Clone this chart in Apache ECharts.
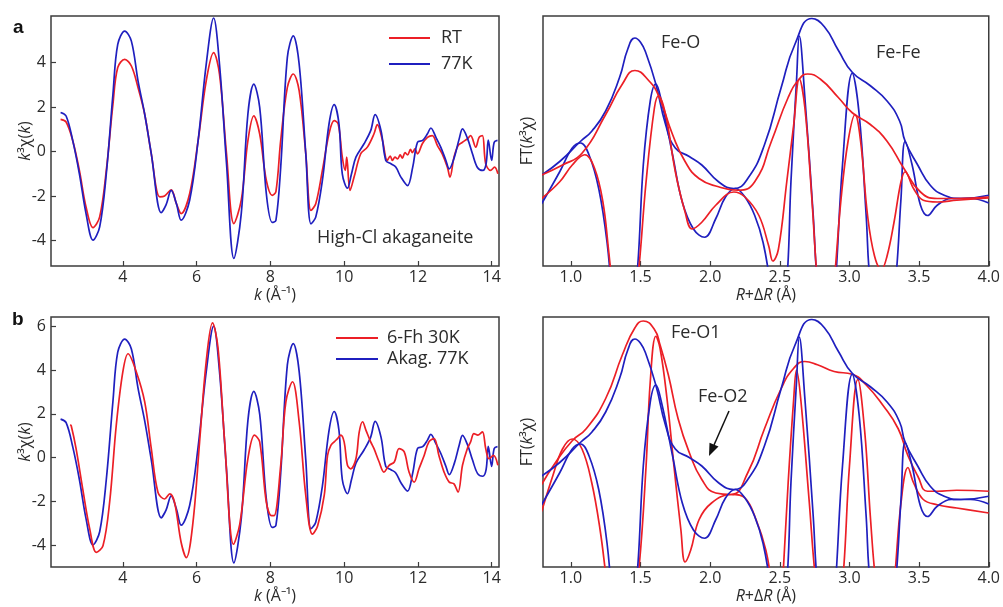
<!DOCTYPE html>
<html>
<head>
<meta charset="utf-8">
<script src="https://cdn.jsdelivr.net/npm/echarts@6/dist/echarts.min.js"></script>
<style>
  html, body { margin: 0; padding: 0; background: #fff; }
  #chart { width: 1003px; height: 607px; }
</style>
</head>
<body>
<div id="chart"></div>
<script>
// k-space ticks
const kTicks = [4, 6, 8, 10, 12, 14];
const chiTicksA = [-4, -2, 0, 2, 4];
const chiTicksB = [-4, -2, 0, 2, 4, 6];
const rTicks = [1.0, 1.5, 2.0, 2.5, 3.0, 3.5, 4.0];

// k^3 chi(k), akaganeite 77K (panels a and b)
const akag77K = [[2.31,1.76],[2.46,1.6],[2.64,0.49],[2.82,-1.0],[3.0,-2.79],[3.19,-3.99],[3.37,-3.39],[3.55,-1.0],[3.73,2.58],[3.86,4.82],[4.05,5.42],[4.23,4.97],[4.41,3.18],[4.59,1.69],[4.77,-0.1],[5.04,-2.75],[5.17,-2.4],[5.31,-1.75],[5.45,-2.34],[5.58,-3.09],[5.81,-2.19],[6.04,0.49],[6.26,3.93],[6.46,6.01],[6.62,3.93],[6.81,-0.55],[7.01,-4.81],[7.21,-2.79],[7.39,1.69],[7.55,3.03],[7.71,1.99],[7.89,-1.9],[8.05,-3.19],[8.15,-3.1],[8.28,-0.7],[8.46,4.24],[8.62,5.21],[8.78,3.94],[8.96,-0.1],[9.1,-3.25],[9.23,-2.95],[9.41,-1.3],[9.59,1.24],[9.73,2.11],[9.86,1.24],[9.95,-1.0],[10.09,-1.65],[10.2,-1.0],[10.32,-0.25],[10.54,0.35],[10.72,0.94],[10.84,1.66],[11.0,0.94],[11.13,-0.4],[11.27,-0.55],[11.4,-0.7],[11.54,-1.15],[11.72,-1.53],[11.86,-0.7],[11.99,0.42],[12.13,0.5],[12.26,0.8],[12.35,1.06],[12.49,0.64],[12.62,0.2],[12.76,-0.4],[12.85,-0.78],[12.99,-0.25],[13.12,0.57],[13.21,1.02],[13.35,0.57],[13.48,-0.1],[13.62,-0.73],[13.76,-0.85],[13.85,-0.55],[13.91,0.52],[14.0,-0.4],[14.07,0.42],[14.16,0.5]];

// k^3 chi(k), akaganeite RT (panel a)
const akagRT = [[2.31,1.45],[2.46,1.33],[2.64,0.49],[2.82,-0.85],[3.0,-2.49],[3.19,-3.42],[3.37,-2.94],[3.55,-0.85],[3.73,2.13],[3.86,3.78],[4.05,4.15],[4.23,3.85],[4.41,2.88],[4.59,1.69],[4.77,-0.1],[5.0,-2.04],[5.13,-2.0],[5.31,-1.72],[5.45,-2.34],[5.58,-2.79],[5.81,-1.9],[6.04,0.49],[6.26,3.18],[6.46,4.45],[6.62,3.48],[6.81,-0.1],[7.01,-3.24],[7.21,-2.19],[7.39,0.49],[7.55,1.61],[7.71,0.79],[7.89,-1.3],[8.05,-1.97],[8.15,-1.8],[8.28,0.5],[8.46,2.89],[8.62,3.49],[8.78,2.74],[8.96,-0.1],[9.1,-2.65],[9.23,-2.35],[9.41,-0.85],[9.59,0.8],[9.73,1.39],[9.84,1.24],[9.95,-0.25],[10.03,-0.85],[10.07,-0.25],[10.16,-1.75],[10.27,-1.15],[10.45,-0.1],[10.63,0.2],[10.81,0.8],[10.9,1.21],[11.04,0.5],[11.17,-0.4],[11.25,-0.2],[11.31,-0.4],[11.38,-0.25],[11.45,-0.33],[11.52,-0.15],[11.58,-0.3],[11.65,-0.05],[11.72,-0.15],[11.8,0.1],[11.85,-0.05],[11.92,0.12],[11.99,-0.1],[12.12,0.35],[12.26,0.64],[12.39,0.72],[12.53,0.27],[12.66,-0.1],[12.8,-0.7],[12.87,-1.15],[12.98,-0.25],[13.09,0.27],[13.21,0.42],[13.34,0.57],[13.43,0.72],[13.57,0.2],[13.66,0.64],[13.75,0.72],[13.84,-0.55],[13.97,-0.85],[14.08,-0.7],[14.17,-1.0]];

// k^3 chi(k), 6-line ferrihydrite 30K (panel b)
const fh30K = [[2.57,1.5],[2.6,1.45],[2.73,0.41],[2.91,-1.43],[3.1,-3.26],[3.28,-4.33],[3.46,-4.03],[3.64,-2.04],[3.82,1.48],[4.0,3.94],[4.14,4.75],[4.36,3.94],[4.59,2.56],[4.77,0.41],[4.95,-1.58],[5.13,-1.89],[5.27,-1.66],[5.4,-2.04],[5.58,-3.88],[5.72,-4.57],[5.9,-2.96],[6.08,0.72],[6.26,4.4],[6.43,6.16],[6.58,5.01],[6.76,0.72],[7.0,-3.96],[7.17,-3.04],[7.39,-0.05],[7.57,1.03],[7.71,0.72],[7.89,-2.04],[8.03,-2.65],[8.1,-2.65],[8.28,-0.35],[8.42,2.55],[8.6,3.47],[8.78,1.64],[8.96,-1.73],[9.14,-3.5],[9.28,-3.12],[9.46,-1.73],[9.55,0.1],[9.64,0.56],[9.73,0.72],[9.82,0.87],[9.91,1.03],[10.0,0.72],[10.09,-0.35],[10.18,-0.51],[10.32,-0.05],[10.41,1.18],[10.5,1.64],[10.59,1.26],[10.72,0.72],[10.81,0.41],[10.95,-0.2],[11.08,-0.66],[11.22,-0.35],[11.36,-0.2],[11.49,0.41],[11.63,0.26],[11.76,-0.66],[11.9,-1.12],[12.03,-0.51],[12.17,0.1],[12.3,0.72],[12.44,0.87],[12.57,0.1],[12.71,-0.66],[12.85,-1.12],[12.98,-1.2],[13.09,-1.58],[13.21,-0.35],[13.34,0.41],[13.43,0.72],[13.52,1.1],[13.63,1.03],[13.75,1.18],[13.84,0.41],[13.93,-0.05],[14.05,0.1],[14.17,-0.35]];

// FT magnitude / real part, arbitrary units (axis bottom = 0, top = 10)
const akagFtMag = [[0.79,3.64],[0.92,4.18],[1.07,4.99],[1.15,5.39],[1.25,6.2],[1.35,7.55],[1.41,8.7],[1.46,9.12],[1.5,8.95],[1.54,8.5],[1.61,7.28],[1.68,5.66],[1.75,4.72],[1.85,4.38],[1.94,4.04],[2.06,3.37],[2.17,3.1],[2.27,3.5],[2.39,4.85],[2.51,7.14],[2.61,8.89],[2.73,9.9],[2.82,9.57],[2.92,8.63],[3.02,7.75],[3.15,7.21],[3.27,6.6],[3.36,5.8],[3.4,4.99],[3.49,4.04],[3.58,3.23],[3.68,2.83],[3.8,2.7],[4.0,2.83]];
const akagFtRe = [[0.79,2.49],[0.92,3.77],[1.01,4.72],[1.07,4.92],[1.13,4.45],[1.2,3.1],[1.26,0.94],[1.31,-2],[1.38,-4.7],[1.44,-2],[1.48,0],[1.52,4.04],[1.57,6.6],[1.61,7.28],[1.65,6.6],[1.73,4.45],[1.8,2.56],[1.88,1.48],[1.96,1.15],[2.04,1.89],[2.11,2.76],[2.18,3.1],[2.25,2.76],[2.32,2.02],[2.38,0.94],[2.43,-0.67],[2.49,-3.37],[2.55,-0.67],[2.58,3.37],[2.62,7.41],[2.64,9.2],[2.68,6.74],[2.74,2.02],[2.77,-0.67],[2.85,-4],[2.9,-0.67],[2.95,4.04],[3.02,7.71],[3.07,6.06],[3.12,2.02],[3.15,-0.67],[3.25,-4],[3.33,-0.67],[3.37,2.7],[3.4,4.99],[3.45,4.04],[3.51,2.43],[3.56,2.02],[3.63,2.43],[3.73,2.7],[3.87,2.7],[4.0,2.52]];
const rtFtMag = [[0.79,3.64],[0.94,4.04],[1.08,4.51],[1.25,6.06],[1.37,7.28],[1.46,7.82],[1.56,7.41],[1.63,6.81],[1.73,5.26],[1.82,4.18],[1.92,3.5],[2.06,3.17],[2.2,3.03],[2.32,3.37],[2.44,4.99],[2.56,6.74],[2.64,7.48],[2.7,7.68],[2.79,7.48],[2.92,6.74],[3.02,6.13],[3.15,5.66],[3.27,4.99],[3.39,3.91],[3.51,2.96],[3.63,2.7],[3.77,2.7],[4.0,2.76]];
const rtFtRe = [[0.79,2.7],[0.92,3.37],[1.01,4.04],[1.1,4.45],[1.17,3.91],[1.23,2.56],[1.27,0.67],[1.32,-2],[1.39,-4.7],[1.45,-2],[1.49,0],[1.54,3.37],[1.6,6.33],[1.63,6.81],[1.68,6.06],[1.75,3.77],[1.82,2.16],[1.87,1.48],[1.94,1.75],[2.04,2.43],[2.17,2.96],[2.25,2.76],[2.35,2.02],[2.42,0.81],[2.45,0.2],[2.49,0.67],[2.55,3.37],[2.6,5.66],[2.64,7.48],[2.68,6.33],[2.73,2.7],[2.77,-0.67],[2.83,-4],[2.89,-0.67],[2.94,2.7],[2.99,4.99],[3.04,6.06],[3.08,4.99],[3.13,2.02],[3.18,0.4],[3.23,-0.13],[3.27,0.4],[3.32,1.75],[3.37,3.37],[3.4,3.77],[3.46,3.1],[3.53,2.63],[3.63,2.56],[3.77,2.63],[4.0,2.72]];
const fhFtMag = [[0.79,3.3],[0.89,4.18],[1.01,5.05],[1.11,5.53],[1.25,6.74],[1.37,8.49],[1.46,9.57],[1.52,9.84],[1.6,9.5],[1.64,8.89],[1.7,7.68],[1.77,5.93],[1.85,4.58],[1.94,3.5],[2.04,2.96],[2.15,2.9],[2.27,3.77],[2.39,5.53],[2.51,7.14],[2.6,7.95],[2.68,8.22],[2.77,8.09],[2.89,7.82],[3.02,7.71],[3.12,7.28],[3.24,6.47],[3.35,5.53],[3.42,4.45],[3.49,3.64],[3.56,3.03],[3.63,3.03],[3.77,3.07],[4.0,3.03]];
const fhFtRe = [[0.79,2.22],[0.87,3.64],[0.94,4.72],[1.01,5.12],[1.08,4.72],[1.15,3.37],[1.21,1.48],[1.26,-0.67],[1.35,-4],[1.44,-2],[1.49,0],[1.54,4.04],[1.57,7.41],[1.61,9.23],[1.64,8.76],[1.69,6.74],[1.74,4.04],[1.79,1.48],[1.82,0.2],[1.86,0.67],[1.92,1.89],[2.01,2.56],[2.15,2.9],[2.25,2.76],[2.33,1.89],[2.4,0.67],[2.44,-0.67],[2.49,-3.37],[2.52,-0.67],[2.56,3.37],[2.6,6.74],[2.62,7.88],[2.65,6.74],[2.71,2.7],[2.76,-0.67],[2.86,-4.7],[2.95,-0.67],[3.0,4.04],[3.06,7.5],[3.11,5.39],[3.15,2.02],[3.19,-0.67],[3.26,-3.37],[3.32,-0.67],[3.37,2.56],[3.42,3.98],[3.46,3.37],[3.53,2.7],[3.63,2.49],[3.77,2.36],[4.0,2.16]];

const RED = '#ec1f26';
const BLUE = '#1f1fbf';
const FONT = 'Open Sans';
const INK = '#2b2b2b';

let chart = echarts.init(document.getElementById('chart'));

const grids = [
    { left: 51, top: 16, width: 448, height: 250 },   // a
    { left: 543, top: 16, width: 448, height: 250 },  // c (FT of a)
    { left: 51, top: 317, width: 448, height: 250 },  // b
    { left: 543, top: 317, width: 448, height: 250 }  // d (FT of b)
].map(g => Object.assign(g, { show: true, borderColor: '#3c3c3c', borderWidth: 1.5 }));

const rich = {
    i: { fontStyle: 'italic', fontSize: 16, fontFamily: FONT, color: INK },
    n: { fontSize: 16, fontFamily: FONT, color: INK }
};

function kAxis(gi) {
    return {
        type: 'value', gridIndex: gi, min: 2.05, max: 14.2,
        name: '{i|k}{n| (Å⁻¹)}', nameLocation: 'middle', nameGap: 21,
        nameTextStyle: { rich: rich },
        axisLine: { show: false, onZero: false },
        splitLine: { show: false },
        axisTick: { show: true, inside: true, length: 5, customValues: kTicks, lineStyle: { color: '#3c3c3c', width: 1.2 } },
        axisLabel: { customValues: kTicks, fontSize: 16, fontFamily: FONT, color: INK, margin: 3 }
    };
}
function rAxis(gi) {
    return {
        type: 'value', gridIndex: gi, min: 0.8, max: 4.0,
        name: '{i|R}{n|+Δ}{i|R}{n| (Å)}', nameLocation: 'middle', nameGap: 21,
        nameTextStyle: { rich: rich },
        axisLine: { show: false, onZero: false },
        splitLine: { show: false },
        axisTick: { show: true, inside: true, length: 5, customValues: rTicks, lineStyle: { color: '#3c3c3c', width: 1.2 } },
        axisLabel: { customValues: rTicks, fontSize: 16, fontFamily: FONT, color: INK, margin: 3,
            formatter: v => v.toFixed(1) }
    };
}
function chiAxis(gi, min, max, ticks) {
    return {
        type: 'value', gridIndex: gi, min: min, max: max,
        name: '{i|k}{n|³χ(}{i|k}{n|)}', nameLocation: 'middle', nameGap: 18,
        nameMoveOverlap: false,
        nameTextStyle: { rich: rich },
        axisLine: { show: false, onZero: false },
        splitLine: { show: false },
        axisTick: { show: true, inside: true, length: 5, customValues: ticks, lineStyle: { color: '#3c3c3c', width: 1.2 } },
        axisLabel: { customValues: ticks, fontSize: 16, fontFamily: FONT, color: INK, margin: 5 }
    };
}
function ftAxis(gi) {
    return {
        type: 'value', gridIndex: gi, min: 0, max: 10,
        name: '{n|FT(}{i|k}{n|³χ)}', nameLocation: 'middle', nameGap: 8,
        nameTextStyle: { rich: rich },
        axisLine: { show: false, onZero: false }, splitLine: { show: false },
        axisTick: { show: false }, axisLabel: { show: false }
    };
}

function line(name, data, color, gi, smooth) {
    return {
        name: name, type: 'line', xAxisIndex: gi, yAxisIndex: gi,
        data: data, showSymbol: false, smooth: smooth, clip: true,
        lineStyle: { color: color, width: 1.7 }, itemStyle: { color: color },
        animation: false
    };
}

let option = {
    backgroundColor: '#fff',
    animation: false,
    grid: grids,
    xAxis: [kAxis(0), rAxis(1), kAxis(2), rAxis(3)],
    yAxis: [chiAxis(0, -5.15, 6.1, chiTicksA), ftAxis(1), chiAxis(2, -5.0, 6.43, chiTicksB), ftAxis(3)],
    legend: [{
        data: ['RT', '77K'], orient: 'vertical', left: 389, top: 29, padding: 0,
        itemWidth: 41, itemHeight: 2, icon: 'rect', itemGap: 8,
        textStyle: { fontSize: 18, fontFamily: FONT, color: INK, padding: [0, 0, 0, 6] }
    }, {
        data: ['6-Fh 30K', 'Akag. 77K'], orient: 'vertical', left: 336, top: 329, padding: 0,
        itemWidth: 42, itemHeight: 2, icon: 'rect', itemGap: 3,
        textStyle: { fontSize: 18, fontFamily: FONT, color: INK, padding: [0, 0, 0, 4] }
    }],
    series: [
        line('RT', akagRT, RED, 0, 0.35),
        line('77K', akag77K, BLUE, 0, 0.35),
        line('Akag FT |χ(R)|', akagFtMag, BLUE, 1, 0.5),
        line('Akag FT Re', akagFtRe, BLUE, 1, 0.4),
        line('RT FT |χ(R)|', rtFtMag, RED, 1, 0.5),
        line('RT FT Re', rtFtRe, RED, 1, 0.4),
        line('Akag. 77K', akag77K, BLUE, 2, 0.35),
        line('6-Fh 30K', fh30K, RED, 2, 0.35),
        line('Fh FT |χ(R)|', fhFtMag, RED, 3, 0.5),
        line('Fh FT Re', fhFtRe, RED, 3, 0.4),
        line('Akag FT |χ(R)| b', akagFtMag, BLUE, 3, 0.5),
        line('Akag FT Re b', akagFtRe, BLUE, 3, 0.4)
    ],
    graphic: [
        { type: 'text', x: 13, y: 28, style: { text: 'a', font: 'bold 19px "Liberation Sans"', fill: '#111', textVerticalAlign: 'middle' } },
        { type: 'text', x: 12, y: 320, style: { text: 'b', font: 'bold 19px "Liberation Sans"', fill: '#111', textVerticalAlign: 'middle' } },
        { type: 'text', x: 317, y: 238, style: { text: 'High-Cl akaganeite', font: '18px "Open Sans"', fill: INK, textVerticalAlign: 'middle' } },
        { type: 'text', x: 661, y: 43, style: { text: 'Fe-O', font: '18px "Open Sans"', fill: INK, textVerticalAlign: 'middle' } },
        { type: 'text', x: 876, y: 53, style: { text: 'Fe-Fe', font: '18px "Open Sans"', fill: INK, textVerticalAlign: 'middle' } },
        { type: 'text', x: 671, y: 333, style: { text: 'Fe-O1', font: '18px "Open Sans"', fill: INK, textVerticalAlign: 'middle' } },
        { type: 'text', x: 698, y: 397, style: { text: 'Fe-O2', font: '18px "Open Sans"', fill: INK, textVerticalAlign: 'middle' } },
        { type: 'line', shape: { x1: 729, y1: 411, x2: 714, y2: 445 }, style: { stroke: '#111', lineWidth: 1.5 } },
        { type: 'polygon', shape: { points: [[709, 456], [718.5, 446.5], [709.5, 442.8]] }, style: { fill: '#111' } }
    ]
};

chart.setOption(option);
</script>
</body>
</html>
